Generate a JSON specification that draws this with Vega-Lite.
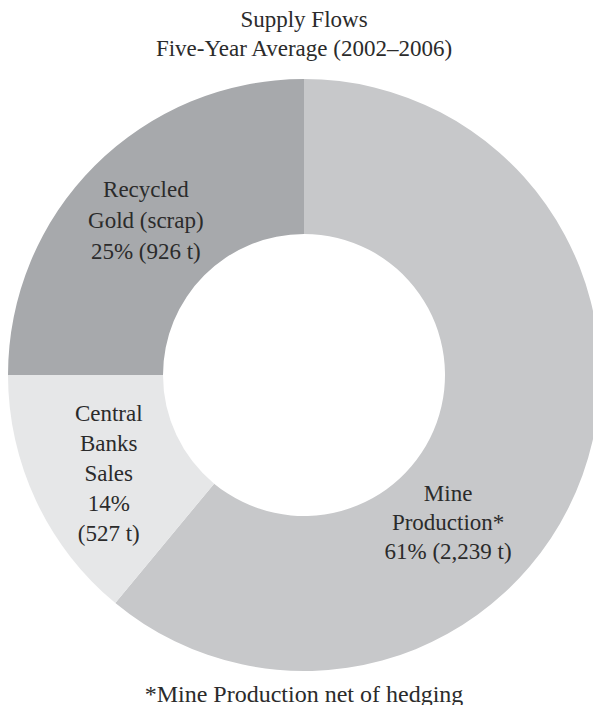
{
  "$schema": "https://vega.github.io/schema/vega-lite/v6.json",
  "padding": {"left": 8, "top": 9, "right": 0, "bottom": 0},
  "background": "white",
  "title": {
    "text": ["Supply Flows", "Five-Year Average (2002–2006)"],
    "orient": "top",
    "anchor": "middle",
    "font": "Liberation Serif",
    "fontSize": 23,
    "fontWeight": "normal",
    "color": "#2b2b2b",
    "lineHeight": 29,
    "offset": 18
  },
  "data": {
    "values": [
      {"source": "Mine Production", "share": 61, "tonnes": 2239, "rank": 1, "label": "Mine\nProduction*\n61% (2,239 t)"},
      {"source": "Central Banks Sales", "share": 14, "tonnes": 527, "rank": 2, "label": "Central\nBanks\nSales\n14%\n(527 t)"},
      {"source": "Recycled Gold (scrap)", "share": 25, "tonnes": 926, "rank": 3, "label": "Recycled\nGold (scrap)\n25% (926 t)"}
    ]
  },
  "vconcat": [
    {
      "width": 592,
      "height": 592,
      "title": {
        "text": "*Mine Production net of hedging",
        "orient": "bottom",
        "anchor": "middle",
        "font": "Liberation Serif",
        "fontSize": 24,
        "fontWeight": "normal",
        "color": "#2b2b2b",
        "offset": 12
      },
      "layer": [
        {
          "mark": {"type": "arc", "innerRadius": 141, "outerRadius": 296},
          "encoding": {
            "theta": {"field": "share", "type": "quantitative", "stack": true},
            "order": {"field": "rank", "type": "quantitative"},
            "color": {
              "field": "source",
              "type": "nominal",
              "scale": {
                "domain": ["Mine Production", "Central Banks Sales", "Recycled Gold (scrap)"],
                "range": ["#c7c8ca", "#e6e7e8", "#a7a9ac"]
              },
              "legend": null
            }
          }
        },
        {
          "mark": {"type": "text", "radius": 218, "dx": -4, "dy": -31, "font": "Liberation Serif", "fontSize": 23, "lineHeight": 31, "lineBreak": "\n", "align": "center", "baseline": "middle", "color": "#2b2b2b"},
          "encoding": {
            "theta": {"field": "share", "type": "quantitative", "stack": true},
            "order": {"field": "rank", "type": "quantitative"},
            "text": {"condition": {"test": "datum.source === 'Recycled Gold (scrap)'", "field": "label"}, "value": ""}
          }
        },
        {
          "mark": {"type": "text", "radius": 218, "dx": 2, "dy": -54, "font": "Liberation Serif", "fontSize": 23, "lineHeight": 30, "lineBreak": "\n", "align": "center", "baseline": "middle", "color": "#2b2b2b"},
          "encoding": {
            "theta": {"field": "share", "type": "quantitative", "stack": true},
            "order": {"field": "rank", "type": "quantitative"},
            "text": {"condition": {"test": "datum.source === 'Central Banks Sales'", "field": "label"}, "value": ""}
          }
        },
        {
          "mark": {"type": "text", "radius": 218, "dx": -61, "dy": 45, "font": "Liberation Serif", "fontSize": 23, "lineHeight": 29, "lineBreak": "\n", "align": "center", "baseline": "middle", "color": "#2b2b2b"},
          "encoding": {
            "theta": {"field": "share", "type": "quantitative", "stack": true},
            "order": {"field": "rank", "type": "quantitative"},
            "text": {"condition": {"test": "datum.source === 'Mine Production'", "field": "label"}, "value": ""}
          }
        }
      ]
    }
  ],
  "config": {"view": {"stroke": null}}
}
